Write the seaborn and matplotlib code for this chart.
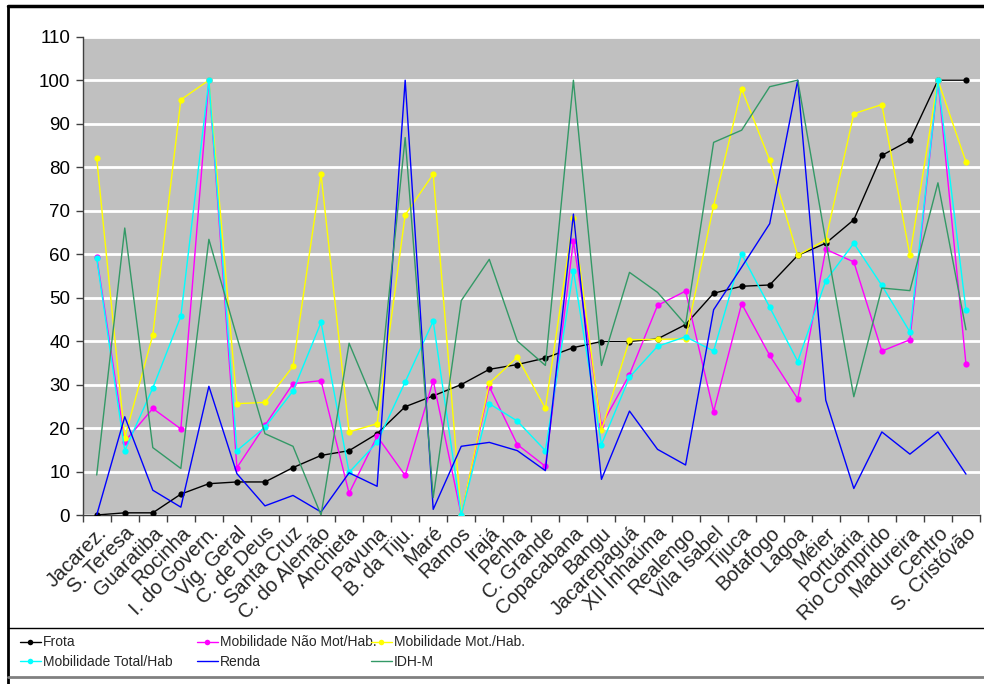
import numpy as np
import pandas as pd
import matplotlib
matplotlib.use("Agg")
import matplotlib.pyplot as plt
from matplotlib.lines import Line2D
from matplotlib import font_manager
import seaborn as sns

categories = ["Jacarez.", "S. Teresa", "Guaratiba", "Rocinha", "I. do Govern.", "Vig. Geral",
              "C. de Deus", "Santa Cruz", "C. do Alemão", "Anchieta", "Pavuna", "B. da Tiju.",
              "Maré", "Ramos", "Irajá", "Penha", "C. Grande", "Copacabana", "Bangu",
              "Jacarepaguá", "XII Inhaúma", "Realengo", "Vila Isabel", "Tijuca", "Botafogo",
              "Lagoa", "Méier", "Portuária", "Rio Comprido", "Madureira", "Centro", "S. Cristóvão"]

frota = [0, 0.5, 0.5, 4.8, 7.2, 7.6, 7.6, 10.9, 13.7, 14.8, 18.7, 24.9, 27.4, 30.0, 33.5, 34.6,
         36.1, 38.5, 39.9, 39.9, 40.5, 43.8, 51.0, 52.6, 52.9, 59.7, 62.5, 67.9, 82.7, 86.2, 100, 100]
mob_nao_mot = [59.4, 16.9, 24.5, 19.8, 100, 10.9, 20.6, 30.2, 30.9, 5.0, 18.1, 9.1, 30.9, 0, 29.5,
               16.2, 11.2, 63.0, 20.6, 32.3, 48.2, 51.5, 23.8, 48.6, 36.7, 26.7, 61.1, 58.2, 37.7,
               40.3, 100, 34.7]
mob_mot = [82.0, 17.8, 41.4, 95.5, 100, 25.6, 25.9, 34.2, 78.4, 19.1, 21.0, 69.0, 78.4, 0, 30.3,
           36.3, 24.5, 68.3, 19.5, 40.3, 40.4, 40.5, 71.1, 98.0, 81.6, 59.7, 63.3, 92.3, 94.4, 59.7,
           100, 81.2]
mob_total = [59.0, 14.8, 29.2, 45.7, 100, 14.8, 20.2, 28.5, 44.3, 9.8, 16.7, 30.6, 44.6, 0, 25.6,
             21.6, 14.8, 56.2, 16.2, 31.7, 38.8, 41.0, 37.7, 60.0, 47.8, 35.3, 53.9, 62.5, 52.8,
             42.1, 100, 47.1]
renda = [0, 22.6, 5.7, 1.8, 29.6, 9.5, 2.1, 4.5, 0.7, 9.7, 6.6, 100, 1.3, 15.8, 16.7, 14.8, 10.2,
         69.2, 8.2, 23.9, 15.1, 11.5, 47.2, 57.0, 67.0, 100, 26.4, 6.1, 19.1, 14.0, 19.1, 9.4]
idh_m = [9.2, 66.0, 15.5, 10.7, 63.4, 40.9, 18.7, 15.8, 0, 39.5, 24.1, 86.8, 4.0, 49.3, 58.8, 40.0,
         34.4, 100, 34.4, 55.8, 51.2, 43.8, 85.7, 88.5, 98.5, 100, 63.0, 27.2, 52.2, 51.6, 76.4, 42.6]

series_names = ["Frota", "Mobilidade Não Mot/Hab.", "Mobilidade Mot./Hab.",
                "Mobilidade Total/Hab", "Renda", "IDH-M"]
series_values = [frota, mob_nao_mot, mob_mot, mob_total, renda, idh_m]
series_colors = ["#000000", "#FF00FF", "#FFFF00", "#00FFFF", "#0000FF", "#339966"]
series_markers = ["o", "o", "o", "o", None, None]
y_ticks = list(range(0, 111, 10))

sns.set_theme(style="white")
plt.rcParams["font.family"] = ["Liberation Sans", "DejaVu Sans"]

available = {f.name for f in font_manager.fontManager.ttflist}
narrow = "Liberation Sans Narrow" if "Liberation Sans Narrow" in available else "Liberation Sans"
legend_size = 11 if narrow == "Liberation Sans Narrow" else 10

fig = plt.figure(figsize=(9.84, 6.84), dpi=100)
W, H = 984, 684
ax = fig.add_axes([82.7 / W, (H - 515) / H, (980 - 82.7) / W, (515 - 36.7) / H])
ax.set_facecolor("#C0C0C0")

pos = np.arange(len(categories))
for name, vals, col, mk in zip(series_names, series_values, series_colors, series_markers):
    df = pd.DataFrame({"x": pos, "y": vals})
    sns.lineplot(data=df, x="x", y="y", ax=ax, color=col, linewidth=1.0, sort=False,
                 marker=mk if mk else None, markersize=4.5, markeredgewidth=0,
                 label=name, legend=False, zorder=3)

ax.set_xlim(-0.5, len(categories) - 0.5)
ax.set_ylim(0, 110)
ax.set_yticks(y_ticks)
ax.yaxis.grid(True, color="white", linewidth=2)
ax.xaxis.grid(False)
ax.set_axisbelow(True)
for s in ["top", "right"]:
    ax.spines[s].set_visible(False)
ax.spines["left"].set_color("#404040")
ax.spines["bottom"].set_color("#404040")
ax.spines["left"].set_linewidth(1)
ax.spines["bottom"].set_linewidth(1)
ax.tick_params(axis="y", direction="out", length=5, width=1, color="#404040", labelsize=13.5,
               pad=4, left=True, labelcolor="black")
ax.set_yticklabels([str(v) for v in y_ticks])

ax.set_xticks(pos)
ax.set_xticklabels(categories, rotation=45, ha="right", va="top", rotation_mode="anchor",
                   fontsize=14.5)
ax.tick_params(axis="x", which="major", length=0, pad=6)
ax.set_xticks(np.arange(-0.5, len(categories), 1.0), minor=True)
ax.tick_params(axis="x", which="minor", direction="out", length=5, width=1, color="#404040",
               bottom=True)
ax.set_xlabel("")
ax.set_ylabel("")

handles = [Line2D([], [], color=c, marker=m if m else None, markersize=4, markeredgewidth=0,
                  linewidth=1.0) for c, m in zip(series_colors, series_markers)]
col_x = [20, 197, 371]
for i, x0 in enumerate(col_x):
    fig.legend(handles=[handles[i], handles[i + 3]], labels=[series_names[i], series_names[i + 3]],
               loc="upper left", bbox_to_anchor=(x0 / W, 1 - 635.5 / H), frameon=False,
               prop={"family": [narrow, "DejaVu Sans"], "size": legend_size},
               handlelength=1.5, handletextpad=0.15, borderpad=0,
               borderaxespad=0, labelspacing=0.38)

fig.add_artist(Line2D([8 / W, 8 / W], [0, 1 - 6 / H], color="black", linewidth=2,
                      transform=fig.transFigure))
fig.add_artist(Line2D([8 / W, 1], [1 - 6 / H, 1 - 6 / H], color="black", linewidth=2.5,
                      transform=fig.transFigure))
fig.add_artist(Line2D([8 / W, 1], [1 - 628 / H, 1 - 628 / H], color="black", linewidth=1,
                      transform=fig.transFigure))
fig.add_artist(Line2D([8 / W, 1], [1 - 677 / H, 1 - 677 / H], color="#808080", linewidth=2,
                      transform=fig.transFigure))

fig.savefig("out.png", dpi=100, facecolor="white")
